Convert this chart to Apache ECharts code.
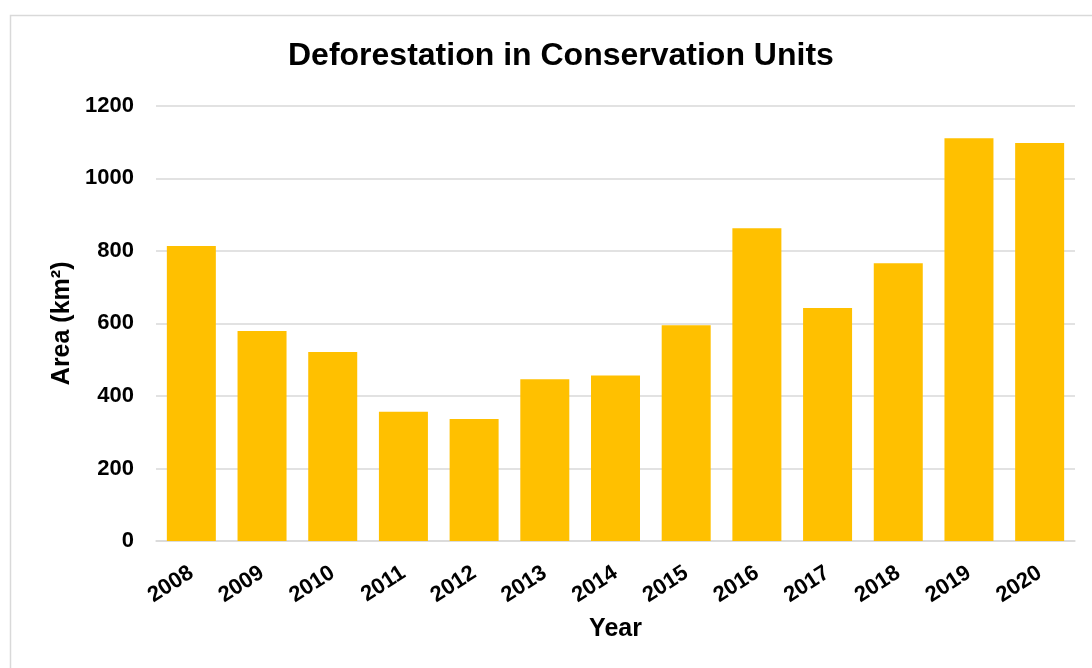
<!DOCTYPE html>
<html>
<head>
<meta charset="utf-8">
<script src="https://cdn.jsdelivr.net/npm/echarts@6/dist/echarts.min.js"></script>
<style>html,body{margin:0;padding:0;background:#fff;}#c{width:1092px;height:668px;}</style>
</head>
<body>
<div id="c"></div>
<script>
const years = ['2008','2009','2010','2011','2012','2013','2014','2015','2016','2017','2018','2019','2020'];
const areaValues = [813, 579, 521, 356, 336, 446, 456, 595, 862, 642, 766, 1110, 1097];
const yTicks = {min: 0, max: 1200, interval: 200};

const chart = echarts.init(document.getElementById('c'), null, {renderer: 'canvas'});
const font = 'Liberation Sans, Arial, sans-serif';
chart.setOption({
  backgroundColor: '#fff',
  animation: false,
  graphic: [{
    type: 'rect',
    shape: {x: 10.5, y: 15.5, width: 1200, height: 800},
    style: {fill: 'none', stroke: '#d9d9d9', lineWidth: 1.5},
    silent: true
  }],
  title: {
    text: 'Deforestation in Conservation Units',
    left: 283,
    top: 35,
    textStyle: {fontFamily: font, fontWeight: 'bold', fontSize: 32, color: '#000'}
  },
  grid: {left: 156, right: 17, top: 105.7, bottom: 127, containLabel: false},
  xAxis: {
    type: 'category',
    data: years,
    name: 'Year',
    nameLocation: 'middle',
    nameGap: 76,
    nameTextStyle: {fontFamily: font, fontWeight: 'bold', fontSize: 25, color: '#000'},
    axisLine: {show: true, lineStyle: {color: '#d9d9d9', width: 1.5}},
    axisTick: {show: false},
    axisLabel: {rotate: 33, margin: 30, fontFamily: font, fontWeight: 'bold', fontSize: 22, color: '#000'}
  },
  yAxis: {
    type: 'value',
    min: yTicks.min,
    max: yTicks.max,
    interval: yTicks.interval,
    name: 'Area (km²)',
    nameLocation: 'middle',
    nameGap: 76,
    nameRotate: 90,
    nameTextStyle: {fontFamily: font, fontWeight: 'bold', fontSize: 25, color: '#000'},
    axisLine: {show: false},
    axisTick: {show: false},
    axisLabel: {margin: 22, fontFamily: font, fontWeight: 'bold', fontSize: 22, color: '#000', formatter: function (v) { return String(v); }},
    splitLine: {lineStyle: {color: '#d9d9d9', width: 1.5}}
  },
  series: [{
    type: 'bar',
    data: areaValues,
    barWidth: 49,
    itemStyle: {color: '#FFC000'}
  }]
});
</script>
</body>
</html>
